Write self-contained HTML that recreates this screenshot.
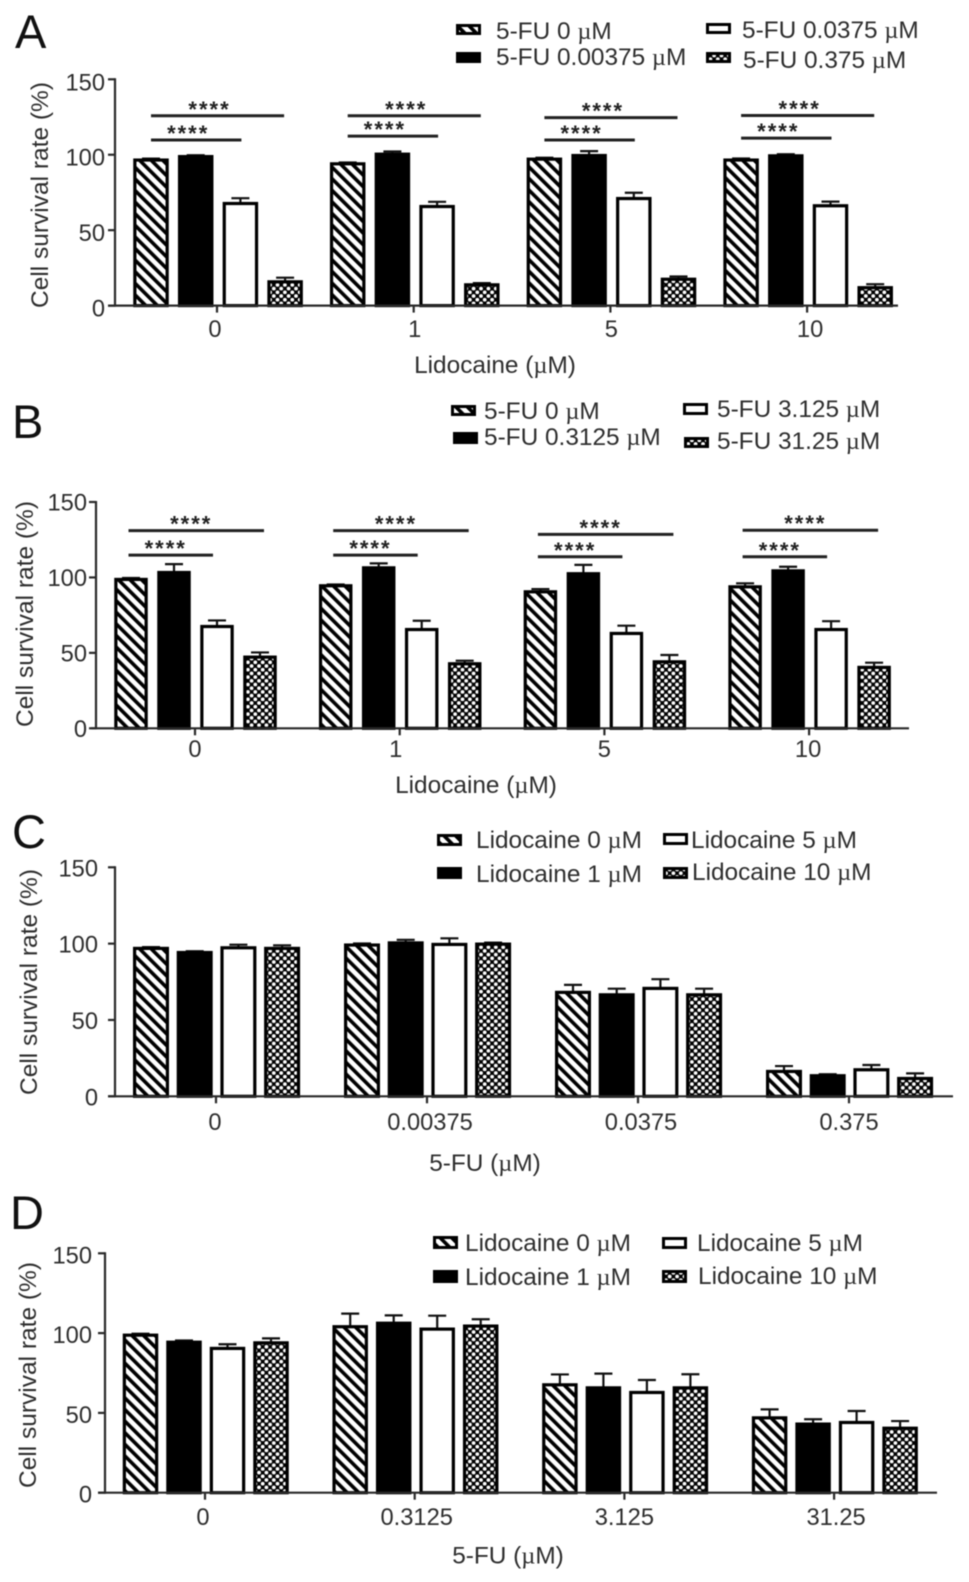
<!DOCTYPE html>
<html lang="en">
<head>
<meta charset="utf-8">
<title>Cell survival rate charts</title>
<style>
html,body{margin:0;padding:0;background:#fff;}
svg{display:block;filter:blur(0.55px);}
text{font-family:"Liberation Sans",sans-serif;fill:#2e2e2e;}
.mu{font-family:"Liberation Serif",serif;}
</style>
</head>
<body>
<svg id="figure" xmlns="http://www.w3.org/2000/svg" width="969" height="1582" viewBox="0 0 969 1582">
  <defs>
    <pattern id="hatch" patternUnits="userSpaceOnUse" width="8.2" height="8.2" patternTransform="rotate(-45)">
      <rect width="8.2" height="8.2" fill="#fff"/>
      <rect width="3.6" height="8.2" fill="#000"/>
    </pattern>
    <pattern id="check" patternUnits="userSpaceOnUse" width="7.4" height="7.4">
      <rect width="7.4" height="7.4" fill="#000"/>
      <circle cx="0" cy="0" r="1.9" fill="#fff"/>
      <circle cx="7.4" cy="0" r="1.9" fill="#fff"/>
      <circle cx="0" cy="7.4" r="1.9" fill="#fff"/>
      <circle cx="7.4" cy="7.4" r="1.9" fill="#fff"/>
      <circle cx="3.7" cy="3.7" r="1.9" fill="#fff"/>
    </pattern>
  </defs>
</svg>
<script>
// ---------- Shared axis data ----------
const yTickValues = [0, 50, 100, 150];
const yAxisTitle = 'Cell survival rate (%)';
const sigLabel = '****';

// ---------- Panel A ----------
const aCategories = ['0', '1', '5', '10'];
const aSeriesLabels = ['5-FU 0 µM', '5-FU 0.00375 µM', '5-FU 0.0375 µM', '5-FU 0.375 µM'];
const aValues0 = [97, 94.5, 97.6, 97];
const aValues1 = [99.3, 100.9, 100, 99.8];
const aValues2 = [68.2, 66.2, 71.5, 66.7];
const aValues3 = [16.3, 14.3, 18, 12.4];
const aErrors0 = [0.4, 0.4, 0.4, 0.5];
const aErrors1 = [0.4, 1.3, 2.4, 0.5];
const aErrors2 = [3, 2.6, 3.3, 2.2];
const aErrors3 = [2.2, 0.6, 1.3, 1.8];
const aSigNear = [109.8, 112.3, 109.8, 111];
const aSigFar = [125.8, 125.8, 124.6, 126];

// ---------- Panel B ----------
const bCategories = ['0', '1', '5', '10'];
const bSeriesLabels = ['5-FU 0 µM', '5-FU 0.3125 µM', '5-FU 3.125 µM', '5-FU 31.25 µM'];
const bValues0 = [99.2, 95, 91, 94.3];
const bValues1 = [103.8, 106.9, 103, 104.9];
const bValues2 = [68, 66, 63.4, 66];
const bValues3 = [47.7, 43.3, 44.6, 40.9];
const bErrors0 = [0.4, 0.3, 1.3, 1.8];
const bErrors1 = [5, 2.4, 5.3, 2.2];
const bErrors2 = [3.5, 5.3, 4.6, 5];
const bErrors3 = [2.6, 1.5, 4, 2.6];
const bSigNear = [114.8, 114.8, 113.7, 113.7];
const bSigFar = [131, 131, 128.5, 131.3];

// ---------- Panel C ----------
const cCategories = ['0', '0.00375', '0.0375', '0.375'];
const cSeriesLabels = ['Lidocaine 0 µM', 'Lidocaine 1 µM', 'Lidocaine 5 µM', 'Lidocaine 10 µM'];
const cValues0 = [97.4, 99.6, 68.6, 16.8];
const cValues1 = [94.7, 101, 67, 14];
const cValues2 = [97.8, 100, 71.2, 17.9];
const cValues3 = [97.4, 100.2, 67, 12.2];
const cErrors0 = [0.3, 0.5, 4.4, 3];
const cErrors1 = [0.3, 1.5, 3.5, 0.5];
const cErrors2 = [1.5, 3.5, 5.5, 2.6];
const cErrors3 = [1.5, 0.5, 3.5, 2.8];

// ---------- Panel D ----------
const dCategories = ['0', '0.3125', '3.125', '31.25'];
const dSeriesLabels = ['Lidocaine 0 µM', 'Lidocaine 1 µM', 'Lidocaine 5 µM', 'Lidocaine 10 µM'];
const dValues0 = [99.2, 104.5, 68.1, 47.4];
const dValues1 = [94.8, 106.7, 66.2, 43.5];
const dValues2 = [90.9, 103, 63.3, 44.5];
const dValues3 = [94.4, 104.9, 66.2, 40.9];
const dErrors0 = [0.4, 7.7, 6, 4.8];
const dErrors1 = [0.6, 4.4, 8.4, 2.5];
const dErrors2 = [2.1, 7.9, 7.3, 6.7];
const dErrors3 = [2.3, 3.8, 8, 4];

const SVGNS = 'http://www.w3.org/2000/svg';
const root = document.getElementById('figure');
const fills = ['url(#hatch)', '#000', '#fff', 'url(#check)'];
const seriesKeys = ['series-0', 'series-1', 'series-2', 'series-3'];

function make(tag, attrs, parent) {
  const node = document.createElementNS(SVGNS, tag);
  for (const k in attrs) node.setAttribute(k, attrs[k]);
  parent.appendChild(node);
  return node;
}

function addLabel(node, str) {
  const parts = str.split('µ');
  node.appendChild(document.createTextNode(parts[0]));
  if (parts.length > 1) {
    const t = document.createElementNS(SVGNS, 'tspan');
    t.setAttribute('class', 'mu');
    t.textContent = 'µ';
    node.appendChild(t);
    node.appendChild(document.createTextNode(parts[1]));
  }
}

function drawPanel(p) {
  const g = make('g', {}, root);
  
  

  const y = v => p.y0 - (v / 150) * (p.y0 - p.y150);
  const groupX = i => p.first + i * p.step;
  const barX = (i, s) => p.barStart + i * p.step + s * p.pitch;

  const letter = make('text', {x: p.letterX, y: p.letterY, 'font-size': 47, style: 'fill:#111'}, g);
  
  
  letter.textContent = p.letter;

  // bars + error bars
  p.values.forEach((vals, s) => {
    vals.forEach((v, i) => {
      const cx = barX(i, s);
      const top = y(v);
      const errTop = y(v + p.errors[s][i]);
      const err = make('path', {d: 'M' + cx + ' ' + top + 'V' + errTop + 'M' + (cx - 9) + ' ' + errTop + 'H' + (cx + 9), stroke: '#111', 'stroke-width': 2.2, fill: 'none'}, g);
      
      
      const bar = make('rect', {x: cx - p.barW / 2 + 1.6, y: top + 0.8, width: p.barW - 3.2, height: Math.max(p.y0 - top - 0.8, 0), fill: fills[s], stroke: '#000', 'stroke-width': 3.2}, g);
      
      
    });
  });

  // axes
  const yAxis = make('line', {x1: p.axisX, x2: p.axisX, y1: p.y150 - 1, y2: p.y0 + 1, stroke: '#2a2a2a', 'stroke-width': 2.2}, g);
  
  
  const xAxis = make('line', {x1: p.xStart, x2: p.xEnd, y1: p.y0, y2: p.y0, stroke: '#2a2a2a', 'stroke-width': 2.2}, g);
  
  

  yTickValues.forEach(v => {
    const tick = make('line', {x1: p.axisX - 7, x2: p.axisX, y1: y(v), y2: y(v), stroke: '#2a2a2a', 'stroke-width': 2.2}, g);
    
    
    const lab = make('text', {x: p.yLabelX, y: y(v) + p.yLabelDy, 'font-size': 23.7, 'text-anchor': 'end'}, g);
    
    
    lab.textContent = v;
  });

  p.categories.forEach((c, i) => {
    const gx = groupX(i);
    const tick = make('line', {x1: gx, x2: gx, y1: p.y0, y2: p.y0 + 7, stroke: '#2a2a2a', 'stroke-width': 2.2}, g);
    
    
    const lab = make('text', {x: gx + p.catShift[i], y: p.catY, 'font-size': 23.7, 'text-anchor': 'middle'}, g);
    
    
    lab.textContent = c;
  });

  const yTitle = make('text', {transform: 'translate(' + p.yTitleX + ' ' + p.yTitleY + ') rotate(-90)', 'font-size': 24.5, 'text-anchor': 'middle'}, g);
  
  
  yTitle.textContent = yAxisTitle;

  const xTitle = make('text', {x: p.xTitleX, y: p.xTitleY, 'font-size': 24.4, 'text-anchor': 'middle'}, g);
  
  
  addLabel(xTitle, p.xTitle);

  // significance brackets
  if (p.sigNear) {
    p.categories.forEach((c, i) => {
      [[p.sigNear[i], p.nearEnd], [p.sigFar[i], p.farEnd]].forEach(pair => {
        const level = pair[0];
        const x1 = barX(i, 0) + p.sigStart;
        const x2 = barX(i, pair[1]) + p.sigPad * (pair[1] === 3 ? 1 : -1);
        const line = make('line', {x1: x1, x2: x2, y1: y(level), y2: y(level), stroke: '#222', 'stroke-width': 3}, g);
        
        
        const stars = make('text', {x: (x1 + x2) / 2 + p.starDx, y: y(level) + 1, 'font-size': 22, 'font-weight': 'bold', 'letter-spacing': 2, 'text-anchor': 'middle', style: 'fill:#222'}, g);
        
        
        stars.textContent = sigLabel;
      });
    });
  }

  // legend
  p.legend.forEach((e, s) => {
    const entry = make('g', {}, g);
    
    
    const sw = make('rect', {x: e.sx + 1.5, y: e.sy + 1.5, width: 22, height: e.sh - 3, fill: fills[s], stroke: '#000', 'stroke-width': 3}, entry);
    
    
    const t = make('text', {x: e.tx, y: e.ty, 'font-size': 24.4}, entry);
    
    
    addLabel(t, p.labels[s]);
  });
}

drawPanel({
  letter: 'A', letterX: 15, letterY: 48,
  y0: 305.6, y150: 79.3, axisX: 115, xStart: 108, xEnd: 898,
  first: 217, step: 196.7, barStart: 151, pitch: 44.7, barW: 35.5,
  categories: aCategories, labels: aSeriesLabels,
  values: [aValues0, aValues1, aValues2, aValues3],
  errors: [aErrors0, aErrors1, aErrors2, aErrors3],
  sigNear: aSigNear, sigFar: aSigFar, nearEnd: 2, farEnd: 3, sigStart: 0, sigPad: -1, starDx: -8,
  yLabelX: 105, yLabelDy: 11, catShift: [-2, 1, 1, 3], catY: 337,
  yTitleX: 48, yTitleY: 195, xTitle: 'Lidocaine (µM)', xTitleX: 495, xTitleY: 373,
  legend: [
    {sx: 456, sy: 24, sh: 11, tx: 496, ty: 39},
    {sx: 456, sy: 52, sh: 11, tx: 496, ty: 65},
    {sx: 706, sy: 23, sh: 11, tx: 742, ty: 38},
    {sx: 706, sy: 52, sh: 11, tx: 743, ty: 68}
  ]
});

drawPanel({
  letter: 'B', letterX: 12, letterY: 438,
  y0: 728.3, y150: 502, axisX: 96, xStart: 91, xEnd: 909,
  first: 195, step: 204.7, barStart: 131, pitch: 43, barW: 33.5,
  categories: bCategories, labels: bSeriesLabels,
  values: [bValues0, bValues1, bValues2, bValues3],
  errors: [bErrors0, bErrors1, bErrors2, bErrors3],
  sigNear: bSigNear, sigFar: bSigFar, nearEnd: 2, farEnd: 3, sigStart: -2.5, sigPad: 4, starDx: -5,
  yLabelX: 87, yLabelDy: 8.5, catShift: [0, -4, 0, -1], catY: 757,
  yTitleX: 33, yTitleY: 614, xTitle: 'Lidocaine (µM)', xTitleX: 476, xTitleY: 793,
  legend: [
    {sx: 451, sy: 405, sh: 11, tx: 484, ty: 419},
    {sx: 453, sy: 432, sh: 12, tx: 484, ty: 445},
    {sx: 683, sy: 403, sh: 12, tx: 717, ty: 417},
    {sx: 684, sy: 437, sh: 11, tx: 717, ty: 449}
  ]
});

drawPanel({
  letter: 'C', letterX: 12, letterY: 848,
  y0: 1096.3, y150: 867.3, axisX: 115, xStart: 108, xEnd: 953,
  first: 216, step: 211, barStart: 151, pitch: 43.7, barW: 36,
  categories: cCategories, labels: cSeriesLabels,
  values: [cValues0, cValues1, cValues2, cValues3],
  errors: [cErrors0, cErrors1, cErrors2, cErrors3],
  yLabelX: 98, yLabelDy: 9, catShift: [-1, 3, 3, 0], catY: 1130,
  yTitleX: 37, yTitleY: 982, xTitle: '5-FU (µM)', xTitleX: 485, xTitleY: 1171,
  legend: [
    {sx: 437, sy: 834, sh: 12, tx: 476, ty: 848},
    {sx: 437, sy: 867, sh: 12, tx: 476, ty: 882},
    {sx: 663, sy: 833, sh: 12, tx: 691, ty: 848},
    {sx: 663, sy: 867, sh: 12, tx: 692, ty: 880}
  ]
});

drawPanel({
  letter: 'D', letterX: 10, letterY: 1229,
  y0: 1492.7, y150: 1253.3, axisX: 105, xStart: 98, xEnd: 937,
  first: 205, step: 209.7, barStart: 140.5, pitch: 43.5, barW: 35.5,
  categories: dCategories, labels: dSeriesLabels,
  values: [dValues0, dValues1, dValues2, dValues3],
  errors: [dErrors0, dErrors1, dErrors2, dErrors3],
  yLabelX: 92, yLabelDy: 10, catShift: [-2, 2, 0, 2], catY: 1525,
  yTitleX: 36, yTitleY: 1375, xTitle: '5-FU (µM)', xTitleX: 508, xTitleY: 1563.5,
  legend: [
    {sx: 433, sy: 1236, sh: 13, tx: 465, ty: 1251},
    {sx: 433, sy: 1270, sh: 13, tx: 465, ty: 1285},
    {sx: 662, sy: 1237, sh: 12, tx: 697, ty: 1251},
    {sx: 662, sy: 1270, sh: 13, tx: 698, ty: 1284}
  ]
});
</script>
</body>
</html>
